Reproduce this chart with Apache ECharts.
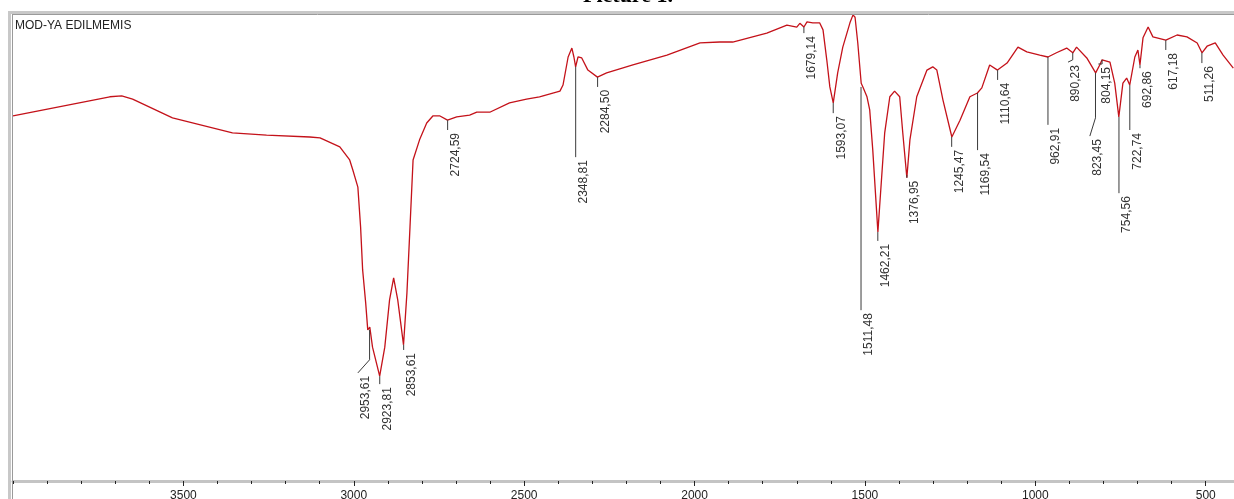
<!DOCTYPE html>
<html>
<head>
<meta charset="utf-8">
<script src="https://cdn.jsdelivr.net/npm/echarts@6/dist/echarts.min.js"></script>
<style>
html,body{margin:0;padding:0;background:#fff;}
#c{width:1234px;height:499px;}
</style>
</head>
<body>
<div id="c"></div>
<script>
// Spectrum (wavenumber cm-1, transmittance, arbitrary %)
const wavenumbers = [4000,3716,3681,3649,3532,3356,3256,3129,3099,3041,3012,3003,2988,2980,2974,2965,2959,2953,2945,2924,2909,2895,2883,2871,2854,2844,2835,2826,2807,2786,2768,2747,2725,2698,2660,2639,2601,2543,2493,2455,2395,2386,2371,2360,2354,2349,2342,2331,2313,2285,2258,2181,2081,1984,1926,1888,1788,1729,1700,1691,1679,1670,1653,1633,1623,1612,1603,1593,1580,1565,1544,1535,1529,1521,1511,1506,1494,1486,1477,1462,1457,1442,1427,1413,1398,1389,1377,1368,1348,1318,1301,1289,1271,1245,1221,1192,1170,1157,1134,1111,1083,1051,1025,987,963,938,908,890,879,849,823,811,804,781,767,755,743,732,723,708,699,693,684,669,655,617,584,555,525,511,496,472,449,419];
const transmittance = [78.0,82.1,82.3,81.6,77.6,74.4,73.9,73.5,73.3,71.4,68.6,66.5,62.8,54.3,45.1,38.0,32.3,32.9,28.6,22.4,28.6,38.7,43.4,38.7,29.1,40.2,54.3,68.6,72.9,76.5,78.0,78.0,77.1,77.8,78.2,78.8,78.8,80.8,81.6,82.1,83.3,84.6,90.6,92.5,90.6,88.5,90.6,90.4,87.8,86.3,87.2,88.9,91.0,93.6,93.8,93.8,95.7,97.4,97.0,97.8,97.0,98.1,97.9,97.9,96.4,90.0,84.2,80.8,87.2,92.7,97.9,99.6,99.1,93.6,85.0,84.2,82.1,79.3,70.7,53.2,58.5,74.4,82.1,83.3,82.1,74.4,64.8,72.9,82.1,87.8,88.5,87.8,81.4,73.5,77.1,82.1,82.9,84.0,88.9,87.8,89.3,92.7,91.7,91.0,90.6,91.5,92.5,91.5,92.7,90.4,87.2,88.9,90.0,89.5,85.0,77.8,85.0,86.1,84.6,90.6,92.1,88.9,94.7,97.0,94.9,94.2,95.3,94.9,93.6,91.5,92.9,93.6,91.0,88.2];

// Peak annotations
const peakLabels = ['2953,61','2923,81','2853,61','2724,59','2348,81','2284,50','1679,14','1593,07','1511,48','1462,21','1376,95','1245,47','1169,54','1110,64','962,91','890,23','823,45','804,15','754,56','722,74','692,86','617,18','511,26'];
const peakWn = [2953.61,2923.81,2853.61,2724.59,2348.81,2284.50,1679.14,1593.07,1511.48,1462.21,1376.95,1245.47,1169.54,1110.64,962.91,890.23,823.45,804.15,754.56,722.74,692.86,617.18,511.26];
const peakT = [32.3,22.4,29.1,77.1,88.5,86.3,97.0,80.8,84.2,53.2,65.4,73.5,82.9,87.8,90.6,91.5,87.2,90.0,77.8,84.6,88.9,94.2,91.5];
const leaderT = [25.9,20.7,28.0,75.0,69.2,84.2,95.7,78.6,36.5,51.3,64.8,71.4,70.7,85.7,76.1,90.0,77.6,89.1,61.5,75.0,88.2,92.1,89.3];
const tailWn = [2988,2923.81,2853.61,2724.59,2348.81,2284.50,1679.14,1593.07,1511.48,1462.21,1376.95,1245.47,1169.54,1110.64,962.91,904,840,815,754.56,722.74,692.86,617.18,511.26];
const tailT = [23.1,20.7,28.0,75.0,69.2,84.2,95.7,78.6,36.5,51.3,64.8,71.4,70.7,85.7,76.1,89.5,73.7,89.1,61.5,75.0,88.2,92.1,89.3];

// Axis ticks
const minorTicks = [4000,3900,3800,3700,3600,3500,3400,3300,3200,3100,3000,2900,2800,2700,2600,2500,2400,2300,2200,2100,2000,1900,1800,1700,1600,1500,1400,1300,1200,1100,1000,900,800,700,600,500];
const majorTicks = [3500,3000,2500,2000,1500,1000,500];

const sampleName = 'MOD-YA EDILMEMIS';
const figureTitle = 'Picture 1.';

const chart = echarts.init(document.getElementById('c'), null, {renderer:'canvas'});
const spectrum = wavenumbers.map((w,i)=>[w, transmittance[i]]);

const xBase = {
  type:'value', inverse:true, min:417, max:4000,
  splitLine:{show:false}
};

chart.setOption({
  animation:false,
  backgroundColor:'#fff',
  grid:{left:13,right:0,top:13,bottom:18,containLabel:false,outerBoundsMode:'none'},
  xAxis:[
    Object.assign({}, xBase, {
      position:'bottom',
      axisLine:{show:true,lineStyle:{color:'#c4c4c4',width:3}},
      axisTick:{show:true,customValues:minorTicks,length:3,inside:false,lineStyle:{color:'#222',width:1}},
      axisLabel:{show:true,customValues:majorTicks,margin:9,color:'#222',fontSize:12,
        fontFamily:'Liberation Sans, Arial, sans-serif',formatter:function(v){return String(v);}}
    }),
    Object.assign({}, xBase, {
      position:'bottom',
      axisLine:{show:false},
      axisTick:{show:true,customValues:majorTicks,length:5,lineStyle:{color:'#222',width:1}},
      axisLabel:{show:false}
    })
  ],
  yAxis:{type:'value',min:0,max:100,show:false},
  graphic:[
    {type:'rect',shape:{x:8,y:12,width:3,height:487},style:{fill:'#c8c8c8'},z:10},
    {type:'rect',shape:{x:8,y:11,width:1226,height:3},style:{fill:'#c8c8c8'},z:10},
    {type:'line',shape:{x1:12,y1:14.5,x2:1234,y2:14.5},style:{stroke:'#9a9a9a',lineWidth:1},z:10},
    {type:'line',shape:{x1:12.5,y1:14,x2:12.5,y2:499},style:{stroke:'#9a9a9a',lineWidth:1},z:10},
    {type:'text',x:15,y:26,style:{text:sampleName,font:'12px "Liberation Sans", Arial, sans-serif',fill:'#222',textVerticalAlign:'middle'},z:11},
    {type:'text',x:628,y:-4,style:{text:figureTitle,font:'bold 22px "Liberation Serif", "Times New Roman", serif',fill:'#000',textAlign:'center',textVerticalAlign:'middle'},z:11}
  ],
  series:[
    {
      type:'line', data:spectrum, showSymbol:false, symbol:'none',
      lineStyle:{color:'#c4121a',width:1.3}, z:3, silent:true, clip:false
    },
    {
      type:'custom', clip:false, silent:true, z:4,
      data:peakWn.map((w,i)=>[w, peakT[i]]),
      renderItem:function(params, api){
        const i = params.dataIndex;
        const p0 = api.coord([peakWn[i], peakT[i]]);
        const p1 = api.coord([peakWn[i], leaderT[i]]);
        const p2 = api.coord([tailWn[i], tailT[i]]);
        return {
          type:'group',
          children:[
            {type:'polyline',shape:{points:[p0,p1,p2]},style:{stroke:'#3a3a3a',lineWidth:1,fill:null}},
            {type:'text',x:p2[0]+8,y:p2[1]+3,rotation:Math.PI/2,
             style:{text:peakLabels[i],font:'12px "Liberation Sans", Arial, sans-serif',fill:'#333',textAlign:'right',textVerticalAlign:'middle'}}
          ]
        };
      }
    }
  ]
});
</script>
</body>
</html>
